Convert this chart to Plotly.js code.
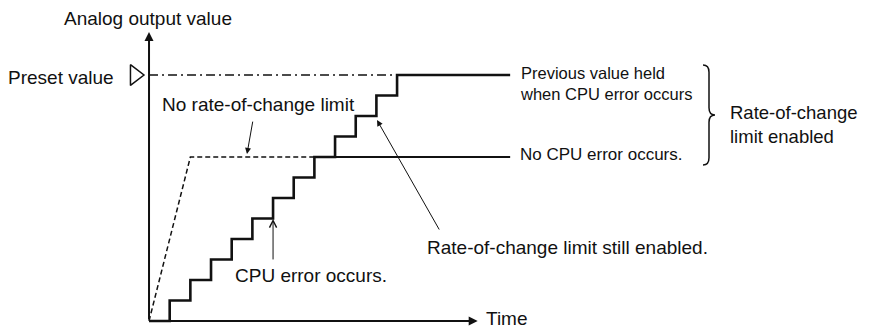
<!DOCTYPE html>
<html>
<head>
<meta charset="utf-8">
<script src="https://cdn.plot.ly/plotly-3.0.1.min.js"></script>
<style>
  body { margin: 0; background: #fff; }
  #chart { width: 869px; height: 331px; }
</style>
</head>
<body>
<div id="chart"></div>
<script>
// output with rate-of-change limit (staircase), held at preset after the last step
var stepTimes  = [0, 1, 2, 3, 4, 5, 6, 7, 8, 9, 10, 11, 12, 17.47];
var stepValues = [0, 1, 2, 3, 4, 5, 6, 7, 8, 9, 10, 11, 12, 12];

// no CPU error: value stays at level 8
var heldTimes  = [8, 17.47];
var heldValues = [8, 8];

// no rate-of-change limit (dashed)
var noLimitTimes  = [0, 2, 8];
var noLimitValues = [0, 8, 8];

// preset value (dash-dot)
var presetTimes  = [0, 12];
var presetValues = [12, 12];
var presetMarkerTime = -0.68;

// axis extents
var axisTimeEnd  = 15.9;
var axisValueEnd = 14.1;

var FONT = 'Liberation Sans, Arial, Helvetica, sans-serif';
var INK = '#111';

var traces = [
	{
		x: presetTimes, y: presetValues,
		mode: 'lines', type: 'scatter',
		line: {color: INK, width: 1.3, dash: '9px,4px,2px,4px'}
	},
	{
		x: noLimitTimes, y: noLimitValues,
		mode: 'lines', type: 'scatter',
		line: {color: INK, width: 1.5, dash: '5px,3px'}
	},
	{
		x: heldTimes, y: heldValues,
		mode: 'lines', type: 'scatter',
		line: {color: INK, width: 2}
	},
	{
		x: stepTimes, y: stepValues,
		mode: 'lines', type: 'scatter',
		line: {color: INK, width: 2.6, shape: 'hv'}
	},
	{
		x: [presetMarkerTime], y: [presetValues[0]],
		mode: 'markers', type: 'scatter',
		marker: {symbol: 'triangle-right-open', size: 18, color: INK, line: {width: 1.5, color: INK}}
	}
];

function label(text, x, y, size, anchor, yanchor) {
	return {
		x: x, y: y, xref: 'x', yref: 'y',
		text: text, showarrow: false,
		xanchor: anchor || 'left', yanchor: yanchor || 'middle',
		align: 'left',
		font: {family: FONT, size: size, color: INK}
	};
}

function arrow(x, y, ax, ay, head, width, size) {
	return {
		x: x, y: y, ax: ax, ay: ay,
		xref: 'x', yref: 'y', axref: 'x', ayref: 'y',
		text: '', showarrow: true,
		arrowhead: head, arrowwidth: width, arrowsize: size,
		arrowcolor: INK
	};
}

var annotations = [
	// axes
	arrow(0, axisValueEnd, 0, 0, 2, 2, 0.9),
	arrow(axisTimeEnd, 0, 0, 0, 2, 2, 0.9),
	// callouts
	arrow(4.74, 8.15, 5.03, 9.80, 2, 1, 1.2),
	arrow(6.0, 4.98, 6.0, 2.93, 5, 1, 1.4),
	arrow(11.03, 9.80, 14.08, 4.39, 2, 1, 1.2),
	// texts
	label('Analog output value', -0.05, 14.78, 19, 'center'),
	label('Preset value', -1.6, 11.9, 19, 'right'),
	label('No rate-of-change limit', 0.55, 10.54, 19),
	label('CPU error occurs.', 4.08, 2.24, 19),
	label('Rate-of-change limit still enabled.', 13.37, 3.61, 19),
	label('Previous value held<br>when CPU error occurs', 17.87, 11.6, 16.5),
	label('No CPU error occurs.', 17.87, 8.1, 17),
	label('Rate-of-change<br>limit enabled', 28.0, 9.6, 18.5),
	label('Time', 16.2, -0.488, 19, 'left', 'bottom')
];

// curly brace grouping the two right-hand labels
var braceX = 26.80, braceTop = 12.49, braceBottom = 7.61;
var bw = 0.29, bc = 0.35;
var braceMid = (braceTop + braceBottom) / 2;
var bx1 = braceX + bw, bx2 = braceX + 2 * bw;
var bracePath = 'M' + braceX + ',' + braceTop +
	' Q' + bx1 + ',' + braceTop + ' ' + bx1 + ',' + (braceTop - bc) +
	' L' + bx1 + ',' + (braceMid + bc) +
	' Q' + bx1 + ',' + braceMid + ' ' + bx2 + ',' + braceMid +
	' Q' + bx1 + ',' + braceMid + ' ' + bx1 + ',' + (braceMid - bc) +
	' L' + bx1 + ',' + (braceBottom + bc) +
	' Q' + bx1 + ',' + braceBottom + ' ' + braceX + ',' + braceBottom;

var layout = {
	width: 869,
	height: 331,
	margin: {l: 0, r: 0, t: 0, b: 0},
	paper_bgcolor: '#fff',
	plot_bgcolor: '#fff',
	showlegend: false,
	xaxis: {range: [-7.209, 34.83], visible: false, fixedrange: true},
	yaxis: {range: [-0.488, 15.66], visible: false, fixedrange: true},
	annotations: annotations,
	shapes: [{
		type: 'path', xref: 'x', yref: 'y',
		path: bracePath,
		line: {color: INK, width: 1.5}
	}]
};

Plotly.newPlot('chart', traces, layout, {displayModeBar: false, staticPlot: true});
</script>
</body>
</html>
